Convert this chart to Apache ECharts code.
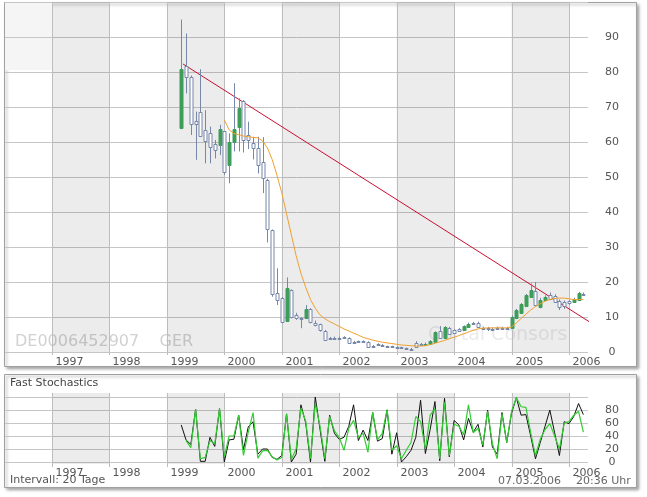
<!DOCTYPE html>
<html><head><meta charset="utf-8">
<script src="https://cdn.jsdelivr.net/npm/echarts@6/dist/echarts.min.js"></script>
<style>html,body{margin:0;padding:0;background:#fff}#c{width:647px;height:497px}</style>
</head><body><div id="c"></div>
<script>
// ---- data ----
const firstYear = 1999, firstMonth = 4, candleCount = 85;
const candleOpen  = [64,81.8,78.7,66,68.7,63.4,62.7,59.3,59.1,63.1,53.3,60.1,64.4,71.7,62,59.8,58.4,54.2,49.1,34.8,16.8,15.3,9.0,17.7,10.6,9.8,9.6,12.3,8.4,8.0,6.1,4.0,4.1,4.1,4.2,4.1,2.9,3.1,3.1,3.0,1.8,2.2,2.1,1.6,1.6,1.4,1.3,1.1,1.0,2.7,2.4,2.3,2.3,2.8,5.9,3.9,7.0,6.3,6.5,6.2,7.2,8.3,8.3,7.0,6.9,6.7,7.0,7.0,7.0,6.8,9.6,11.2,13.2,15.8,17.5,12.9,15.0,16.2,16.0,14.5,14.3,14.5,14.3,15.0,16.6];
const candleClose = [81,78.7,65.1,65.2,61.8,60.3,58.7,57.7,63.6,51.4,59.9,63.6,69.8,60.6,60.6,58.4,53.3,49.6,35.1,16.7,15.0,8.7,18.2,10.1,9.6,9.6,12.2,8.5,7.7,6.3,3.5,3.8,4.0,4.0,4.0,2.7,2.7,2.9,2.9,1.4,1.6,2.0,1.9,1.4,1.4,1.2,1.1,1.0,0.9,1.5,2.2,2.4,3.2,5.7,3.9,7.1,5.2,5.5,6.0,7.4,8.1,8.1,7.2,6.6,6.7,6.6,6.9,6.9,6.9,10.1,12.0,13.6,16.3,17.7,13.4,15.0,15.8,15.2,14.4,13.0,13.1,14.0,15.2,16.9,16.2];
const candleLow   = [63.9,73.9,62,54.9,61.5,53.9,53.9,55.3,56.3,50.6,48.2,57.3,57.3,57,58,55,51,45.4,31.3,15.8,13.4,8.2,8.8,9.6,9.2,6.8,9.4,8.2,7.3,5.8,3.3,3.6,3.8,3.8,3.8,2.5,2.5,2.7,2.7,1.2,1.4,1.8,1.7,1.2,1.3,1.0,1.0,0.8,0.7,1.3,2.0,2.1,2.2,2.6,3.7,3.7,5.0,5.2,5.7,6.0,7.0,7.9,7.0,6.4,6.0,6.3,6.7,6.7,6.7,6.7,9.4,11.0,13.0,15.5,13.0,12.5,14.6,14.8,14.0,12.0,12.3,13.5,14.0,14.8,16.0];
const candleHigh  = [95,91,79,68.7,80.8,69.1,64.4,60.6,64.9,63.1,62.5,76.8,72.5,72,65.8,61.5,61.5,61.4,49.5,35,23.9,15.7,21.3,17.9,11.2,9.9,13.4,12.5,9.0,8.1,6.3,4.3,4.4,4.4,4.5,4.2,3.2,3.3,3.3,3.1,2.0,2.5,2.3,1.8,1.8,1.6,1.5,1.3,1.2,3.1,2.6,2.7,3.4,5.9,7.4,7.4,7.2,6.5,6.8,7.6,8.4,8.6,8.7,7.2,7.2,7.0,7.2,7.2,7.2,10.4,12.3,14.0,16.6,19.6,20.0,15.5,16.2,17.0,16.5,15.0,14.7,14.8,15.5,17.2,17.0];
const movingAverage = [null,null,null,null,null,null,null,null,null,66.3,63.5,62.4,62.1,61.7,61.5,61.3,61.2,60.3,58.3,55,50.5,45.5,39.5,33.5,27.5,22.5,18.5,15.0,12.5,10.6,9.5,8.7,8.0,7.3,6.6,6.0,5.4,4.8,4.2,3.8,3.4,3.1,2.8,2.6,2.4,2.2,2.0,1.9,1.8,1.7,1.7,1.8,2.1,2.5,2.9,3.3,3.8,4.2,4.7,5.2,5.7,6.2,6.6,6.8,6.9,6.9,6.9,6.9,6.9,7.2,8.3,9.6,10.8,12.0,13.0,13.8,14.5,15.0,15.3,15.4,15.4,15.2,15.0,15.0,15.0];
const stochK = [57,34,27,81,1,1,38,24,82,0,34,35,72,19,54,62,12,20,20,7,4,10,74,0,12,88,60,0,100,50,1,72,44,35,38,55,88,33,49,33,76,32,36,80,12,45,0,8,18,38,95,13,50,93,2,98,8,64,57,34,67,46,58,23,80,23,12,76,30,75,99,72,73,40,5,30,55,80,45,10,62,59,70,90,73];
const stochD = [null,33,22,81,5,7,33,28,82,8,40,40,72,10,46,76,6,17,18,8,3,7,74,4,20,83,63,5,90,55,5,70,48,38,18,52,64,38,44,15,76,34,44,81,18,25,5,18,30,70,62,20,72,82,5,92,10,58,55,42,88,45,52,26,78,28,5,74,30,78,99,85,84,45,10,35,50,59,40,20,60,62,72,78,46];
const trendLine = [[1999.28, 82.3], [2006.52, 6.9]];
const yearTicks = [1997,1998,1999,2000,2001,2002,2003,2004,2005,2006];
const shadedYears = [[1997,1998],[1999,2000],[2001,2002],[2003,2004],[2005,2006]];
const priceTicks = [0,10,20,30,40,50,60,70,80,90];
const stochTicks = [0,20,40,60,80];

// ---- helpers ----
const candleT = Array.from({length: candleCount}, (_, i) => firstYear + (firstMonth - 1 + i) / 12);
const FONT = '"DejaVu Sans", Verdana, sans-serif';
const X_MIN = 1996.182, X_MAX = 2006.331;

const chart = echarts.init(document.getElementById('c'), null, {renderer: 'canvas'});

function bandRender(ext) {
  return function (params, api) {
    const cs = params.coordSys;
    const a = api.coord([api.value(0), 0]), b = api.coord([api.value(1), 0]);
    return {type: 'rect', shape: {x: a[0], y: cs.y - ext[0], width: b[0] - a[0], height: cs.height + ext[0] + ext[1]},
      style: {fill: 'rgba(0,0,0,0.075)'}, silent: true};
  };
}
function yearRender(ext, labelDy) {
  return function (params, api) {
    const cs = params.coordSys;
    const p = api.coord([api.value(0), 0]);
    const x = Math.round(p[0]) + 0.5;
    return {type: 'group', children: [
      {type: 'line', shape: {x1: x, y1: cs.y - ext[0], x2: x, y2: cs.y + cs.height + ext[1]}, style: {stroke: '#bdbdbd', lineWidth: 1}},
      {type: 'text', x: x + 3, y: cs.y + cs.height + labelDy,
        style: {text: String(api.value(0)), fill: '#555', font: '11px ' + FONT, textAlign: 'left', textVerticalAlign: 'middle'}}
    ]};
  };
}
function candleRender(params, api) {
  const t = api.value(0), o = api.value(1), c = api.value(2), l = api.value(3), h = api.value(4);
  const pl = api.coord([t, l]), ph = api.coord([t, h]), po = api.coord([t, o]), pc = api.coord([t, c]);
  const x = Math.round(pl[0]) + 0.5;
  const up = c > o;
  let top = Math.round(Math.min(po[1], pc[1])) + 0.5, bot = Math.round(Math.max(po[1], pc[1])) + 0.5;
  if (bot - top < 1) bot = top + 1;
  const col = '#7787a8';
  return {type: 'group', children: [
    {type: 'line', shape: {x1: x, y1: ph[1], x2: x, y2: pl[1]}, style: {stroke: col, lineWidth: 1}},
    {type: 'rect', shape: {x: x - 1.5, y: top, width: 3, height: bot - top},
      style: {fill: up ? '#3e9d58' : '#ffffff', stroke: up ? '#3e9d58' : col, lineWidth: 1}}
  ]};
}

const option = {
  animation: false,
  backgroundColor: '#fff',
  graphic: [
    {type: 'rect', z: -100, shape: {x: 4.5, y: 2.5, width: 632, height: 364},
      style: {fill: '#fff', stroke: '#a0a0a0', lineWidth: 1, shadowBlur: 3, shadowOffsetX: 2, shadowOffsetY: 2, shadowColor: 'rgba(0,0,0,0.35)'}},
    {type: 'rect', z: -100, shape: {x: 4.5, y: 374.5, width: 632, height: 113},
      style: {fill: '#fff', stroke: '#a0a0a0', lineWidth: 1, shadowBlur: 3, shadowOffsetX: 2, shadowOffsetY: 2, shadowColor: 'rgba(0,0,0,0.35)'}},
    {type: 'rect', z: -50, shape: {x: 5, y: 3, width: 47, height: 67}, style: {fill: '#f5f5f5'}},
    {type: 'text', z: -40, left: 15, top: 334, style: {text: 'DE0006452907    GER', fill: '#d2d2d2', font: '16px ' + FONT}},
    {type: 'text', z: -40, left: 428, top: 326, style: {text: 'Cortal Consors', fill: '#ebebeb', font: '19px ' + FONT}},
    {type: 'text', left: 10, top: 378, style: {text: 'Fast Stochastics', fill: '#444', font: '11px ' + FONT}},
    {type: 'text', left: 10, top: 475, style: {text: 'Intervall: 20 Tage', fill: '#555', font: '11px ' + FONT}},
    {type: 'text', left: 498, top: 476, style: {text: '07.03.2006', fill: '#666', font: '11px ' + FONT}},
    {type: 'text', left: 576, top: 476, style: {text: '20:36 Uhr', fill: '#666', font: '11px ' + FONT}}
  ],
  grid: [
    {left: 5, top: 2, width: 583, height: 350},
    {left: 5, top: 397, width: 583, height: 65}
  ],
  xAxis: [
    {type: 'value', gridIndex: 0, min: X_MIN, max: X_MAX, show: false},
    {type: 'value', gridIndex: 1, min: X_MIN, max: X_MAX, show: false}
  ],
  yAxis: [
    {type: 'value', gridIndex: 0, position: 'right', min: 0, max: 100, interval: 10,
      axisLine: {show: false}, axisTick: {show: false},
      splitLine: {lineStyle: {color: '#c6c6c6', width: 1}},
      axisLabel: {margin: 24, align: 'center', color: '#555', fontFamily: FONT, fontSize: 11,
        formatter: v => priceTicks.indexOf(v) >= 0 ? String(v) : ''}},
    {type: 'value', gridIndex: 1, position: 'right', min: 0, max: 100, interval: 20,
      axisLine: {show: false}, axisTick: {show: false},
      splitLine: {lineStyle: {color: '#c6c6c6', width: 1}},
      axisLabel: {margin: 24, align: 'center', color: '#555', fontFamily: FONT, fontSize: 11,
        formatter: v => stochTicks.indexOf(v) >= 0 ? String(v) : ''}}
  ],
  series: [
    {type: 'custom', xAxisIndex: 0, yAxisIndex: 0, renderItem: bandRender([0, 0]), data: shadedYears, z: 1, silent: true},
    {type: 'custom', xAxisIndex: 0, yAxisIndex: 0, renderItem: yearRender([0, 3], 10), data: yearTicks.map(y => [y]), z: 1, silent: true},
    {type: 'custom', xAxisIndex: 1, yAxisIndex: 1, renderItem: bandRender([4, 2]), data: shadedYears, z: 1, silent: true},
    {type: 'custom', xAxisIndex: 1, yAxisIndex: 1, renderItem: yearRender([4, 5], 11), data: yearTicks.map(y => [y]), z: 1, silent: true},
    {type: 'line', xAxisIndex: 0, yAxisIndex: 0, data: trendLine, symbol: 'none', clip: false,
      lineStyle: {color: '#c80f30', width: 1}, z: 3},
    {type: 'custom', xAxisIndex: 0, yAxisIndex: 0, renderItem: candleRender, z: 4,
      dimensions: ['t', 'open', 'close', 'low', 'high'], encode: {x: 0, y: [1, 2, 3, 4]},
      data: candleT.map((t, i) => [t, candleOpen[i], candleClose[i], candleLow[i], candleHigh[i]])},
    {type: 'line', xAxisIndex: 0, yAxisIndex: 0, symbol: 'none', z: 5,
      data: candleT.map((t, i) => [t, movingAverage[i]]).filter(d => d[1] !== null),
      lineStyle: {color: '#f0a030', width: 1}},
    {type: 'line', xAxisIndex: 1, yAxisIndex: 1, symbol: 'none', z: 5,
      data: candleT.map((t, i) => [t, stochK[i]]), lineStyle: {color: '#111', width: 1}},
    {type: 'line', xAxisIndex: 1, yAxisIndex: 1, symbol: 'none', z: 6,
      data: candleT.map((t, i) => [t, stochD[i]]).filter(d => d[1] !== null), lineStyle: {color: '#33cc33', width: 1.2}}
  ]
};
chart.setOption(option);
</script></body></html>
